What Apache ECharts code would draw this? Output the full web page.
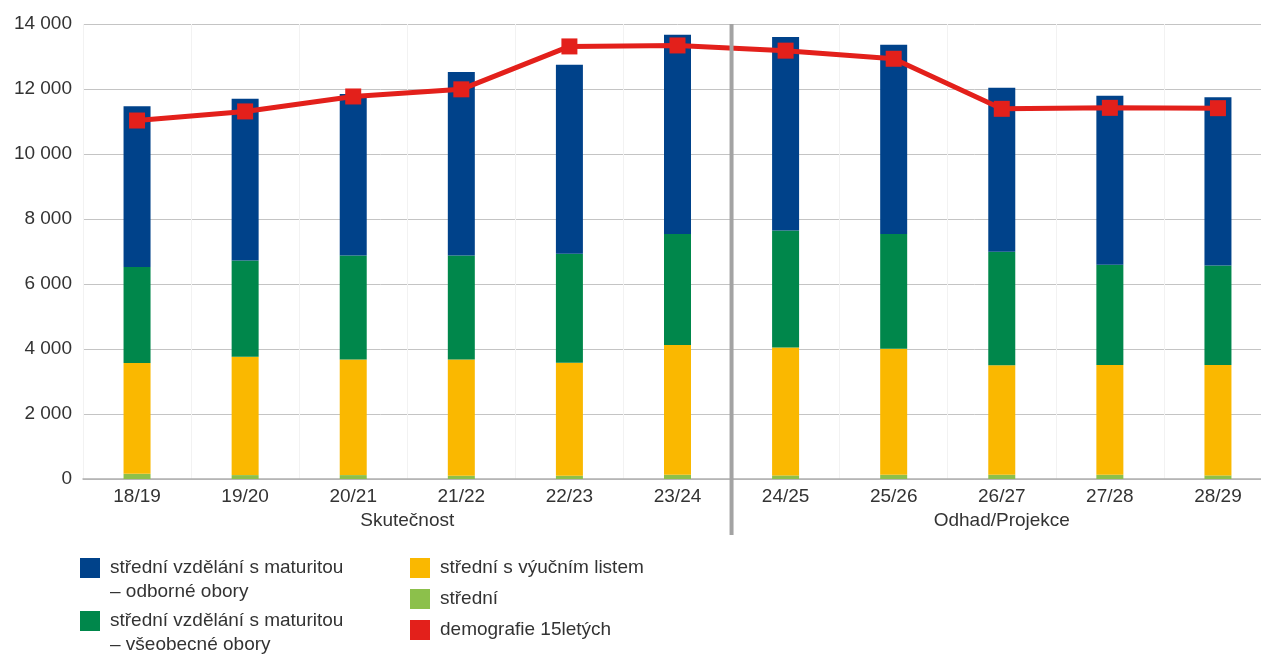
<!DOCTYPE html>
<html>
<head>
<meta charset="utf-8">
<script src="https://cdn.jsdelivr.net/npm/echarts@6/dist/echarts.min.js"></script>
<style>html,body{margin:0;padding:0;background:#fff;overflow:hidden}#c{width:1272px;height:655px}</style>
</head>
<body>
<div id="c"></div>
<script>
const categories = ['18/19','19/20','20/21','21/22','22/23','23/24','24/25','25/26','26/27','27/28','28/29'];
const periodLabels = ['Skutečnost','Odhad/Projekce'];
const periodCenters = [2.5, 8];
const separatorAt = 5.5;
const nameOdborne = 'střední vzdělání s maturitou – odborné obory';
const nameVseobecne = 'střední vzdělání s maturitou – všeobecné obory';
const nameVyucni = 'střední s výučním listem';
const nameStredni = 'střední';
const nameDemo = 'demografie 15letých';
const stredni   = [160,120,120,100,100,130,110,130,130,130,110];
const vyucni    = [3410,3640,3560,3580,3480,3990,3940,3880,3370,3380,3400];
const vseobecne = [2950,2960,3200,3200,3350,3420,3600,3530,3490,3080,3060];
const odborne   = [4950,4980,4970,5640,5820,6130,5950,5820,5050,5200,5180];
const demografie = [11030,11310,11770,11990,13310,13340,13180,12930,11390,11420,11410];
const yTicks = {min:0, max:14000, interval:2000};

const FONT = 'Liberation Sans';
const TXT = '#333333';
const chart = echarts.init(document.getElementById('c'));
function fmt(v){ return String(v).replace(/\B(?=(\d{3})+(?!\d))/g, ' '); }
function bar(name, data, color){
  return {name, type:'bar', stack:'s', data, barWidth:27, itemStyle:{color}, xAxisIndex:0, yAxisIndex:0};
}
function richLines(lines){ return lines.map(function(l){ return '{t|' + l + '}'; }).join('\n'); }
const legendText = {fontFamily:FONT, fontSize:19, color:TXT, lineHeight:24,
  rich:{t:{fontFamily:FONT, fontSize:19, color:TXT, lineHeight:24, padding:[0,0,0,5]}}};
chart.setOption({
  animation:false,
  grid:{left:83, top:24, bottom:176, right:0},
  xAxis:[{
    type:'category', data:categories, boundaryGap:true,
    axisLine:{lineStyle:{color:'#b0b0b0', width:1.5}},
    axisTick:{show:false},
    axisLabel:{fontFamily:FONT, fontSize:19, color:TXT, margin:8},
    splitLine:{show:true, lineStyle:{color:'#f2f2f2'}}
  },{
    type:'value', min:-0.5, max:10.5, position:'bottom',
    axisLine:{show:false}, axisTick:{show:false}, splitLine:{show:false},
    axisLabel:{show:true, customValues:periodCenters, fontFamily:FONT, fontSize:19, color:TXT, margin:32,
      formatter:function(v){ const i = periodCenters.indexOf(v); return i>=0 ? periodLabels[i] : ''; }}
  }],
  yAxis:{
    type:'value', min:yTicks.min, max:yTicks.max, interval:yTicks.interval,
    axisLine:{show:false}, axisTick:{show:false},
    axisLabel:{fontFamily:FONT, fontSize:19, color:TXT, margin:11, formatter:fmt},
    splitLine:{lineStyle:{color:'#c4c4c4', width:1}}
  },
  legend:[{
    left:80, top:532, height:300, padding:0, orient:'vertical', itemWidth:20, itemHeight:20, itemGap:-19,
    icon:'rect', selectedMode:false,
    data:[nameOdborne, nameVseobecne],
    formatter:function(n){ return richLines(['\u00a0'].concat(n.replace(' – ', '\n– ').split('\n'))); },
    textStyle:legendText
  },{
    left:410, top:556, height:300, padding:0, orient:'vertical', itemWidth:20, itemHeight:20, itemGap:7,
    icon:'rect', selectedMode:false,
    data:[nameVyucni, nameStredni, nameDemo],
    formatter:function(n){ return richLines([n]); },
    textStyle:legendText
  }],
  series:[
    bar(nameStredni, stredni, '#8cc04b'),
    bar(nameVyucni, vyucni, '#fab800'),
    bar(nameVseobecne, vseobecne, '#00874b'),
    bar(nameOdborne, odborne, '#00428a'),
    {name:nameDemo, type:'line', data:demografie, xAxisIndex:0, yAxisIndex:0, z:5,
     symbol:'rect', symbolSize:16, itemStyle:{color:'#e3201b'},
     lineStyle:{color:'#e3201b', width:5}}
  ]
});
const sx = chart.convertToPixel({xAxisIndex:1}, separatorAt);
const sy = chart.convertToPixel({yAxisIndex:0}, yTicks.max);
chart.setOption({graphic:[{type:'line', shape:{x1:sx, y1:sy, x2:sx, y2:535}, style:{stroke:'#a3a3a3', lineWidth:4}, z:10}]});
</script>
</body>
</html>
